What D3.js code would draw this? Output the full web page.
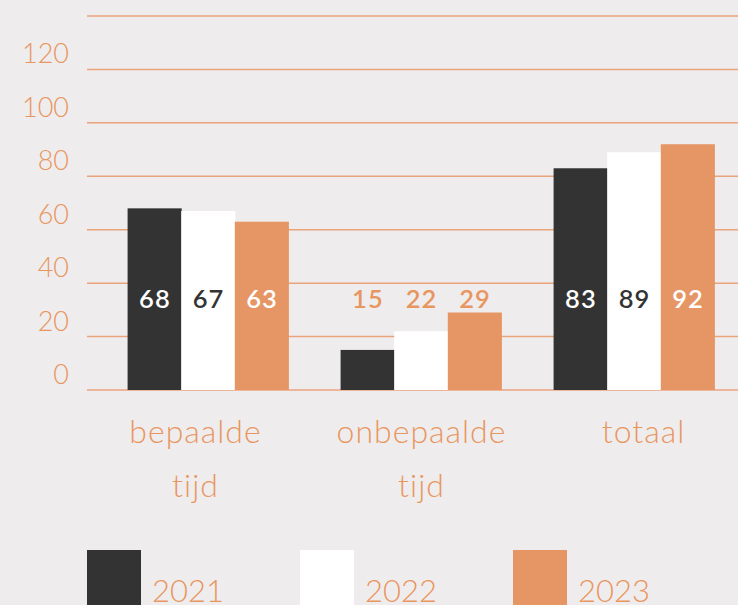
<!DOCTYPE html>
<html>
<head>
<meta charset="utf-8">
<script src="https://cdn.jsdelivr.net/npm/d3@7"></script>
<style>
  body { margin: 0; background: #efeced; }
  svg { display: block; }
</style>
</head>
<body>
<svg width="738" height="605"></svg>
<script>
var categories = [["bepaalde", "tijd"], ["onbepaalde", "tijd"], ["totaal"]];
var years = ["2021", "2022", "2023"];
var v2021 = [68, 15, 83];
var v2022 = [67, 22, 89];
var v2023 = [63, 29, 92];
var yTicks = [0, 20, 40, 60, 80, 100, 120, 140];

var series = [v2021, v2022, v2023];
var fills = ["#333333", "#ffffff", "#e69664"];
var inside = ["#ffffff", "#333333", "#ffffff"];
var orange = "#e8965f";
// the category labels are not quite centred under their bars
var labelShift = [-13, 0, 9];

var svg = d3.select("svg");
var width = 738, height = 605;
var margin = {left: 87, top: 16, bottom: 215};

var y = d3.scaleLinear().domain([0, 140]).range([390, 16]);
var x0 = d3.scaleBand().domain(d3.range(categories.length))
  .range([101.5, 740.5]).paddingInner(0.245).paddingOuter(0.1225);
var x1 = d3.scaleBand().domain(d3.range(years.length)).range([0, x0.bandwidth()]);

// grid lines
svg.append("g").selectAll("line")
  .data(yTicks)
  .join("line")
  .attr("x1", margin.left)
  .attr("x2", width)
  .attr("y1", d => y(d))
  .attr("y2", d => y(d))
  .attr("stroke", "#eaa47c")
  .attr("stroke-width", 1.5);

// tick labels, sitting above their line
svg.append("g").selectAll("text")
  .data(yTicks.filter(d => d < 140))
  .join("text")
  .attr("x", 69)
  .attr("y", d => y(d) - 6)
  .attr("text-anchor", "end")
  .attr("fill", orange)
  .style("font-family", "Lato")
  .style("font-weight", 300)
  .style("font-size", "27px")
  .text(d => d);

// bars
var groups = svg.append("g").selectAll("g")
  .data(categories)
  .join("g")
  .attr("transform", (d, i) => "translate(" + x0(i) + ",0)");

groups.selectAll("rect")
  .data((d, i) => series.map((s, j) => ({j: j, v: s[i]})))
  .join("rect")
  .attr("x", d => x1(d.j))
  .attr("width", x1.bandwidth() + 0.5)
  .attr("y", d => y(d.v))
  .attr("height", d => y(0) - y(d.v))
  .attr("fill", d => fills[d.j]);

groups.selectAll("text.val")
  .data((d, i) => series.map((s, j) => ({j: j, v: s[i]})))
  .join("text")
  .attr("class", "val")
  .attr("x", d => x1(d.j) + x1.bandwidth() / 2 + 0.5)
  .attr("y", 308)
  .attr("text-anchor", "middle")
  .attr("fill", d => y(d.v) < 285 ? inside[d.j] : orange)
  .style("font-family", "Lato")
  .style("font-weight", 600)
  .style("font-size", "25.5px")
  .style("letter-spacing", "1px")
  .text(d => d.v);

// category labels
groups.selectAll("text.cat")
  .data(d => d)
  .join("text")
  .attr("class", "cat")
  .attr("x", function () {
    var i = categories.indexOf(d3.select(this.parentNode).datum());
    return x0.bandwidth() / 2 + labelShift[i] + 0.5;
  })
  .attr("y", (d, k) => 443 + k * 54)
  .attr("text-anchor", "middle")
  .attr("fill", orange)
  .style("font-family", "Lato")
  .style("font-weight", 300)
  .style("font-size", "32px")
  .style("letter-spacing", "1px")
  .text(d => d);

// legend
var legend = svg.append("g").selectAll("g")
  .data(years)
  .join("g")
  .attr("transform", (d, i) => "translate(" + (87 + i * 213) + ",550)");

legend.append("rect")
  .attr("width", 54)
  .attr("height", 60)
  .attr("fill", (d, i) => fills[i]);

legend.append("text")
  .attr("x", 65)
  .attr("y", 52)
  .attr("fill", orange)
  .style("font-family", "Lato")
  .style("font-weight", 300)
  .style("font-size", "31px")
  .text(d => d);
</script>
</body>
</html>
